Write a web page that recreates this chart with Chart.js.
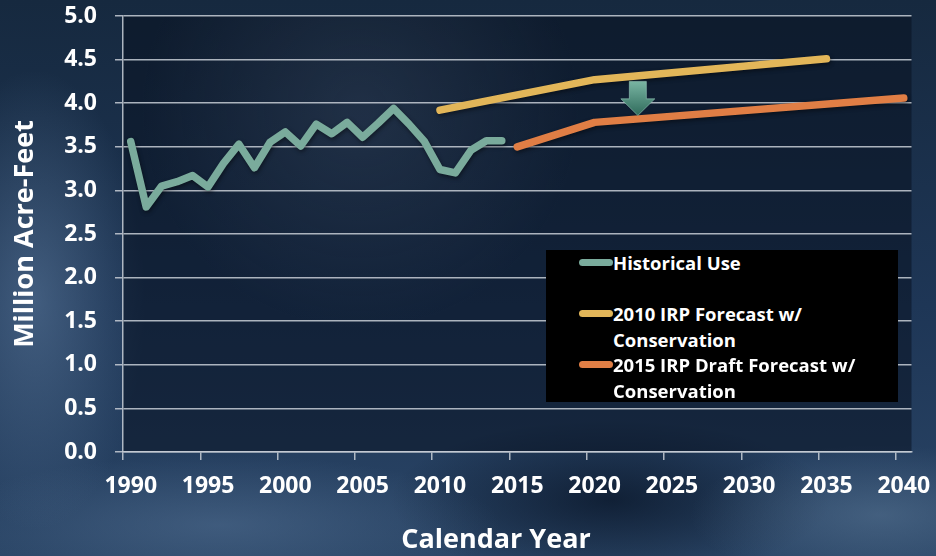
<!DOCTYPE html>
<html>
<head>
<meta charset="utf-8">
<title>Water Demand Forecast</title>
<script src="https://cdn.jsdelivr.net/npm/chart.js@4.4.1/dist/chart.umd.min.js"></script>
<style>
  html, body { margin: 0; padding: 0; }
  body {
    width: 936px; height: 556px; overflow: hidden; position: relative;
    font-family: "Open Sans", sans-serif;
    background:
      radial-gradient(ellipse 110px 230px at 35px 300px, rgba(95,125,160,0.55), rgba(95,125,160,0) 100%),
      radial-gradient(ellipse 280px 70px at 220px 525px, rgba(90,120,155,0.45), rgba(90,120,155,0) 100%),
      radial-gradient(ellipse 190px 70px at 880px 515px, rgba(100,130,160,0.45), rgba(100,130,160,0) 100%),
      radial-gradient(ellipse 220px 80px at 610px 500px, rgba(4,14,30,0.65), rgba(4,14,30,0) 100%),
      linear-gradient(180deg, #16293f 0%, #1e3656 55%, #2a4566 100%);
  }
  #chart { position: absolute; left: 0; top: 0; }
  #xTitle {
    position: absolute; left: 346px; top: 521px; width: 300px; text-align: center;
    color: #fff; font-weight: 700; font-size: 27px; line-height: 34px;
  }
  #legend {
    position: absolute; left: 546px; top: 250px; width: 352px; height: 152px;
    background: #000;
  }
  .item { position: absolute; left: 33px; height: 51px; width: 300px; }
  .swatch { position: absolute; left: 0; top: 9px; width: 34px; height: 7px; border-radius: 4px; }
  .text {
    position: absolute; left: 34px; top: 0; width: 262px;
    color: #fff; font-weight: 700; font-size: 18.5px; line-height: 25.5px;
  }
</style>
</head>
<body>
<canvas id="chart" width="936" height="556"></canvas>
<div id="xTitle">Calendar Year</div>
<div id="legend"></div>
<script>
// Calendar years on the category axis
const years = [
  1990, 1991, 1992, 1993, 1994, 1995, 1996, 1997, 1998, 1999,
  2000, 2001, 2002, 2003, 2004, 2005, 2006, 2007, 2008, 2009,
  2010, 2011, 2012, 2013, 2014, 2015, 2016, 2017, 2018, 2019,
  2020, 2021, 2022, 2023, 2024, 2025, 2026, 2027, 2028, 2029,
  2030, 2031, 2032, 2033, 2034, 2035, 2036, 2037, 2038, 2039, 2040
];

// Historical use, 1990-2014 (million acre-feet)
const historicalYears = [
  1990, 1991, 1992, 1993, 1994, 1995, 1996, 1997, 1998, 1999,
  2000, 2001, 2002, 2003, 2004, 2005, 2006, 2007, 2008, 2009,
  2010, 2011, 2012, 2013, 2014
];
const historicalUse = [
  3.56, 2.81, 3.05, 3.10, 3.17, 3.04, 3.31, 3.53, 3.26, 3.55,
  3.67, 3.51, 3.76, 3.65, 3.78, 3.61, 3.77, 3.94, 3.76, 3.56,
  3.24, 3.20, 3.46, 3.57, 3.57
];

// 2010 IRP forecast with conservation
const irp2010Years = [2010, 2020, 2035];
const irp2010Values = [3.92, 4.27, 4.51];

// 2015 IRP draft forecast with conservation
const irp2015Years = [2015, 2020, 2040];
const irp2015Values = [3.50, 3.78, 4.06];

// Y axis ticks
const yTicks = [0, 0.5, 1.0, 1.5, 2.0, 2.5, 3.0, 3.5, 4.0, 4.5, 5.0];

// Reduction arrow between the two forecasts (year index, values)
const arrowAt = { yearIndex: 32.8, top: 4.25, neck: 4.05, tip: 3.86 };

function seriesOnYears(ys, vals) {
  return years.map(y => {
    const i = ys.indexOf(y);
    return i >= 0 ? vals[i] : null;
  });
}

const gridColor = 'rgba(200,206,214,0.85)';
const tickFont = { family: '"Open Sans", sans-serif', weight: '700', size: 23 };

const plotShade = {
  id: 'plotShade',
  beforeDraw(chart) {
    const { ctx, chartArea: a } = chart;
    ctx.save();
    ctx.fillStyle = 'rgba(6,14,28,0.5)';
    ctx.fillRect(a.left, a.top, a.right - a.left, a.bottom - a.top);
    const g = ctx.createRadialGradient(360, 110, 10, 360, 110, 220);
    g.addColorStop(0, 'rgba(90,110,140,0.22)');
    g.addColorStop(1, 'rgba(90,110,140,0)');
    ctx.fillStyle = g;
    ctx.fillRect(a.left, a.top, a.right - a.left, a.bottom - a.top);
    ctx.restore();
  }
};

const lineShadow = {
  id: 'lineShadow',
  beforeDatasetDraw(chart) {
    const ctx = chart.ctx;
    ctx.save();
    ctx.shadowColor = 'rgba(0,0,0,0.45)';
    ctx.shadowBlur = 4;
    ctx.shadowOffsetX = 1;
    ctx.shadowOffsetY = 2;
  },
  afterDatasetDraw(chart) {
    chart.ctx.restore();
  }
};

const reductionArrow = {
  id: 'reductionArrow',
  afterDatasetsDraw(chart) {
    const { ctx, scales: { x, y } } = chart;
    const cx = x.getPixelForValue(arrowAt.yearIndex);
    const yTop = y.getPixelForValue(arrowAt.top);
    const yNeck = y.getPixelForValue(arrowAt.neck);
    const yTip = y.getPixelForValue(arrowAt.tip);
    const shaft = 8.5, head = 17;
    ctx.save();
    const g = ctx.createLinearGradient(0, yTop, 0, yTip);
    g.addColorStop(0, '#79b5a3');
    g.addColorStop(1, '#2f6b5b');
    ctx.beginPath();
    ctx.moveTo(cx - shaft, yTop);
    ctx.lineTo(cx + shaft, yTop);
    ctx.lineTo(cx + shaft, yNeck);
    ctx.lineTo(cx + head, yNeck);
    ctx.lineTo(cx, yTip);
    ctx.lineTo(cx - head, yNeck);
    ctx.lineTo(cx - shaft, yNeck);
    ctx.closePath();
    ctx.fillStyle = g;
    ctx.fill();
    ctx.lineWidth = 1;
    ctx.strokeStyle = 'rgba(150,200,185,0.6)';
    ctx.stroke();
    ctx.restore();
  }
};

const lineStyle = {
  borderWidth: 7.5,
  borderCapStyle: 'round',
  borderJoinStyle: 'round',
  pointRadius: 0,
  pointHoverRadius: 0,
  tension: 0,
  fill: false,
  spanGaps: true
};

const chart = new Chart(document.getElementById('chart'), {
  type: 'line',
  data: {
    labels: years.map(String),
    datasets: [
      Object.assign({
        label: 'Historical Use',
        data: seriesOnYears(historicalYears, historicalUse),
        borderColor: '#7aab9c', backgroundColor: '#7aab9c'
      }, lineStyle),
      Object.assign({
        label: '2010 IRP Forecast w/ Conservation',
        data: seriesOnYears(irp2010Years, irp2010Values),
        borderColor: '#e2b659', backgroundColor: '#e2b659'
      }, lineStyle),
      Object.assign({
        label: '2015 IRP Draft Forecast w/ Conservation',
        data: seriesOnYears(irp2015Years, irp2015Values),
        borderColor: '#e07e45', backgroundColor: '#e07e45'
      }, lineStyle)
    ]
  },
  options: {
    responsive: false,
    animation: false,
    devicePixelRatio: 1,
    layout: { padding: { left: 0, top: 16, right: 24.5, bottom: 0 } },
    plugins: { legend: { display: false }, tooltip: { enabled: false } },
    scales: {
      x: {
        type: 'category',
        offset: true,
        grid: {
          offset: true,
          drawOnChartArea: false,
          drawTicks: true,
          tickLength: 8,
          lineWidth: 1.5,
          color: (c) => (typeof c.index === 'number' && c.index % 5 === 0 && c.index < years.length) ? gridColor : 'rgba(0,0,0,0)'
        },
        border: { color: gridColor, width: 1.5 },
        ticks: {
          autoSkip: false, maxRotation: 0, minRotation: 0,
          color: '#ffffff', font: tickFont, padding: 13,
          callback: (v, i) => (years[i] % 5 === 0 ? String(years[i]) : '')
        },
        afterFit: (s) => { s.height = 104; s.paddingLeft = 0; s.paddingRight = 0; }
      },
      y: {
        min: 0, max: 5,
        afterBuildTicks: (s) => { s.ticks = yTicks.map(v => ({ value: v })); },
        grid: { color: gridColor, lineWidth: 1.5, tickLength: 8 },
        border: { color: gridColor, width: 1.5 },
        ticks: {
          color: '#ffffff', font: tickFont, padding: 18,
          callback: (v) => Number(v).toFixed(1)
        },
        title: {
          display: true, text: 'Million Acre-Feet', color: '#ffffff',
          font: { family: '"Open Sans", sans-serif', weight: '700', size: 27 },
          padding: { top: 9, bottom: 0 }
        },
        afterFit: (s) => { s.width = 123; s.paddingTop = 0; s.paddingBottom = 0; }
      }
    }
  },
  plugins: [plotShade, lineShadow, reductionArrow]
});

// Legend box built from the chart's datasets
const legendEl = document.getElementById('legend');
chart.data.datasets.forEach((ds, i) => {
  const item = document.createElement('div');
  item.className = 'item';
  item.style.top = (i * 51) + 'px';
  const sw = document.createElement('div');
  sw.className = 'swatch';
  sw.style.background = ds.borderColor;
  const tx = document.createElement('div');
  tx.className = 'text';
  tx.textContent = ds.label;
  item.appendChild(sw);
  item.appendChild(tx);
  legendEl.appendChild(item);
});
</script>
</body>
</html>
